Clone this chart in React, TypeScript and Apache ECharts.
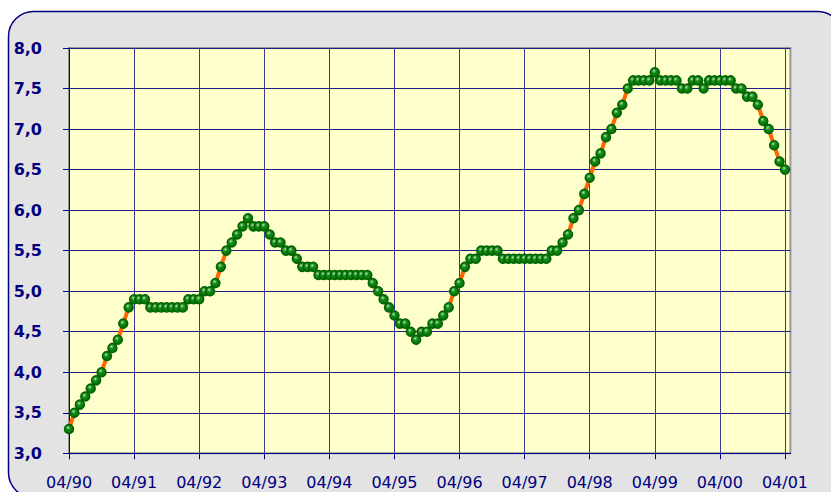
import React, { useEffect, useRef } from "react";
import * as echarts from "echarts";

// Monthly values from 04/90 to 04/01
const values: number[] = [
  3.3, 3.5, 3.6, 3.7, 3.8, 3.9, 4.0, 4.2, 4.3, 4.4, 4.6, 4.8, // 04/90 - 03/91
  4.9, 4.9, 4.9, 4.8, 4.8, 4.8, 4.8, 4.8, 4.8, 4.8, 4.9, 4.9, // 04/91 - 03/92
  4.9, 5.0, 5.0, 5.1, 5.3, 5.5, 5.6, 5.7, 5.8, 5.9, 5.8, 5.8, // 04/92 - 03/93
  5.8, 5.7, 5.6, 5.6, 5.5, 5.5, 5.4, 5.3, 5.3, 5.3, 5.2, 5.2, // 04/93 - 03/94
  5.2, 5.2, 5.2, 5.2, 5.2, 5.2, 5.2, 5.2, 5.1, 5.0, 4.9, 4.8, // 04/94 - 03/95
  4.7, 4.6, 4.6, 4.5, 4.4, 4.5, 4.5, 4.6, 4.6, 4.7, 4.8, 5.0, // 04/95 - 03/96
  5.1, 5.3, 5.4, 5.4, 5.5, 5.5, 5.5, 5.5, 5.4, 5.4, 5.4, 5.4, // 04/96 - 03/97
  5.4, 5.4, 5.4, 5.4, 5.4, 5.5, 5.5, 5.6, 5.7, 5.9, 6.0, 6.2, // 04/97 - 03/98
  6.4, 6.6, 6.7, 6.9, 7.0, 7.2, 7.3, 7.5, 7.6, 7.6, 7.6, 7.6, // 04/98 - 03/99
  7.7, 7.6, 7.6, 7.6, 7.6, 7.5, 7.5, 7.6, 7.6, 7.5, 7.6, 7.6, // 04/99 - 03/00
  7.6, 7.6, 7.6, 7.5, 7.5, 7.4, 7.4, 7.3, 7.1, 7.0, 6.8, 6.6, // 04/00 - 03/01
  6.5, // 04/01
];

const yearTickLabels: string[] = [
  "04/90", "04/91", "04/92", "04/93", "04/94", "04/95",
  "04/96", "04/97", "04/98", "04/99", "04/00", "04/01",
];

const startMonth = 4;
const startYear = 1990;
const categoryCount = 134; // one empty slot after 04/01

const categories: string[] = [];
for (let i = 0; i < categoryCount; i++) {
  const m = ((startMonth - 1 + i) % 12) + 1;
  const y = (startYear + Math.floor((startMonth - 1 + i) / 12)) % 100;
  categories.push(String(m).padStart(2, "0") + "/" + String(y).padStart(2, "0"));
}

const yMin = 3;
const yMax = 8;
const yStep = 0.5;

export default function App() {
  const ref = useRef<HTMLDivElement>(null);

  useEffect(() => {
    if (!ref.current) return;
    const chart = echarts.init(ref.current, undefined, { renderer: "svg" });
    const navy = "#000080";
    const showIdx = (i: number) => i % 12 === 0 && yearTickLabels.includes(categories[i]);
    chart.setOption({
      animation: false,
      backgroundColor: "#ffffff",
      graphic: [
        {
          type: "rect",
          z: -10,
          silent: true,
          shape: { x: 8.5, y: 11.5, width: 834, height: 486, r: 25 },
          style: { fill: "#e3e3e3", stroke: navy, lineWidth: 1.5 },
        },
      ],
      grid: {
        left: 69,
        top: 48,
        right: 40.6,
        bottom: 38.7,
        show: true,
        backgroundColor: "#ffffcc",
        borderColor: "#999999",
        borderWidth: 2,
        outerBoundsMode: "none",
        containLabel: false,
      },
      xAxis: {
        type: "category",
        data: categories,
        boundaryGap: false,
        axisLine: { show: true, lineStyle: { color: navy, width: 1 } },
        axisTick: {
          show: true,
          length: 6,
          interval: (i: number) => showIdx(i),
          lineStyle: { color: navy },
        },
        axisLabel: {
          interval: (i: number) => showIdx(i),
          color: navy,
          fontFamily: "DejaVu Sans",
          fontSize: 16,
          margin: 21,
        },
        splitLine: {
          show: true,
          interval: (i: number) => showIdx(i),
          lineStyle: { color: "#3a3a96", width: 1 },
        },
      },
      yAxis: {
        type: "value",
        min: yMin,
        max: yMax,
        interval: yStep,
        axisLine: { show: true, lineStyle: { color: navy, width: 1 } },
        axisTick: { show: true, length: 6, lineStyle: { color: navy } },
        axisLabel: {
          color: navy,
          fontFamily: "DejaVu Sans",
          fontWeight: "bold",
          fontSize: 16,
          margin: 27,
          formatter: (v: number) => v.toFixed(1).replace(".", ","),
        },
        splitLine: { show: true, lineStyle: { color: "#1c1c82", width: 1 } },
      },
      series: [
        {
          type: "line",
          data: values,
          showAllSymbol: true,
          symbol: "circle",
          symbolSize: 9,
          lineStyle: { color: "#ff6600", width: 4 },
          itemStyle: {
            color: {
              type: "radial",
              x: 0.4,
              y: 0.35,
              r: 0.65,
              colorStops: [
                { offset: 0, color: "#b8e6b8" },
                { offset: 0.35, color: "#1a8c1a" },
                { offset: 1, color: "#007000" },
              ],
            },
            borderColor: "#006400",
            borderWidth: 1.5,
          },
          z: 3,
        },
      ],
    });
    return () => chart.dispose();
  }, []);

  return (
    <div
      ref={ref}
      style={{ position: "absolute", left: 0, top: 0, width: 831, height: 492 }}
    />
  );
}
